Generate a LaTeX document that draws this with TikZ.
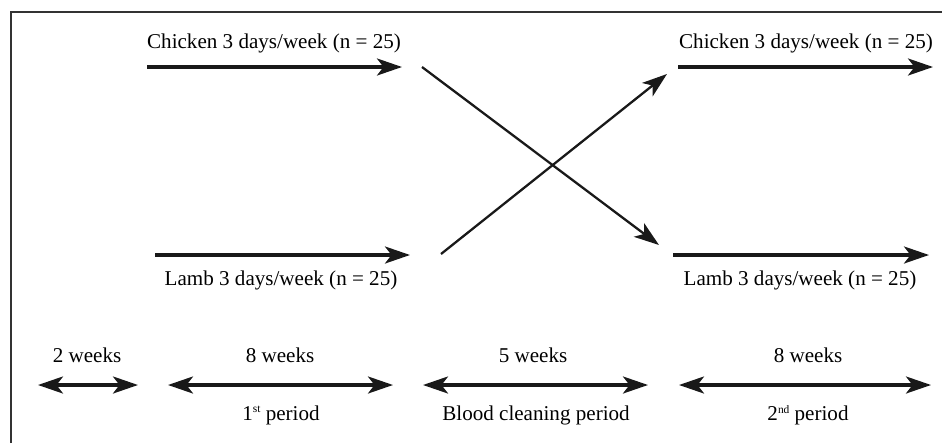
\documentclass[tikz,border=0pt]{standalone}
\usepackage{fontspec}
\setmainfont{Liberation Serif}
\usetikzlibrary{arrows.meta, positioning}

\newcommand{\ordsup}[1]{\raisebox{0.75ex}{\fontsize{6.5}{7}\selectfont #1}}

\begin{document}
\begin{tikzpicture}[
    x=0.02cm, y=-0.02cm,
    label/.style={font=\fontsize{12}{14}\selectfont, inner sep=1pt},
    head/.tip={Stealth[length=5mm, width=3.4mm, inset=1.3mm]},
    arrow/.style={-head, line width=1.8pt, draw=black!90},
    cross/.style={-head, line width=1.3pt, draw=black!90},
    span/.style={head-head, line width=1.8pt, draw=black!90}
]
\useasboundingbox (0,0) rectangle (942,443);
\draw[line width=0.6pt, black!80] (11,443) -- (11,12) -- (942,12);

% groups, first period
\node[label] (chick1) at (274,43) {Chicken 3 days/week (n = 25)};
\node[label] (lamb1) at (281,280) {Lamb 3 days/week (n = 25)};
% groups, second period
\node[label] (chick2) at (806,43) {Chicken 3 days/week (n = 25)};
\node[label] (lamb2) at (800,280) {Lamb 3 days/week (n = 25)};

\coordinate (c1s) at (147,67);
\coordinate (c1e) at (402,67);
\coordinate (l1s) at (155,255);
\coordinate (l1e) at (410,255);
\coordinate (c2s) at (678,67);
\coordinate (c2e) at (933,67);
\coordinate (l2s) at (673,255);
\coordinate (l2e) at (929,255);
\coordinate (xa) at (422,67);
\coordinate (xb) at (659,245);
\coordinate (ya) at (441,254);
\coordinate (yb) at (667,74);

\draw[arrow] (c1s) -- (c1e);
\draw[arrow] (l1s) -- (l1e);
\draw[arrow] (c2s) -- (c2e);
\draw[arrow] (l2s) -- (l2e);
\draw[cross] (xa) -- (xb);
\draw[cross] (ya) -- (yb);

% time line
\node[label] (run) at (87,355) {2 weeks};
\node[label] (wk1) at (280,355) {8 weeks};
\node[label] (wash) at (533,355) {5 weeks};
\node[label] (wk2) at (808,355) {8 weeks};

\coordinate (r0) at (38,385);
\coordinate (r1) at (138,385);
\coordinate (p0) at (168,385);
\coordinate (p1) at (393,385);
\coordinate (w0) at (423,385);
\coordinate (w1) at (648,385);
\coordinate (q0) at (679,385);
\coordinate (q1) at (931,385);

\draw[span] (r0) -- (r1);
\draw[span] (p0) -- (p1);
\draw[span] (w0) -- (w1);
\draw[span] (q0) -- (q1);

\node[label] (per1) at (281,415) {1\ordsup{st} period};
\node[label] (clean) at (536,415) {Blood cleaning period};
\node[label] (per2) at (808,415) {2\ordsup{nd} period};

\end{tikzpicture}
\end{document}
